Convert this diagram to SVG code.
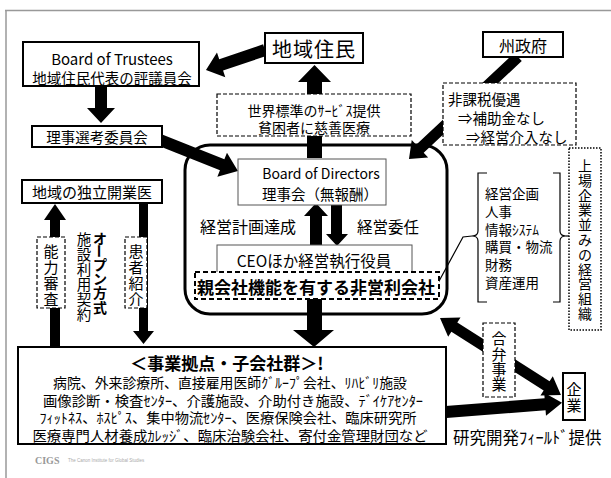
<svg xmlns="http://www.w3.org/2000/svg" width="611" height="478" viewBox="0 0 611 478">
<style>
text{font-family:"Noto Sans CJK JP","Noto Sans",sans-serif;fill:#000;dominant-baseline:central}
.c{text-anchor:middle}
.b{font-weight:bold}
.box{fill:#fff;stroke:#000;stroke-width:2}
.thin{fill:#fff;stroke:#555;stroke-width:1}
.dash{fill:#fff;stroke:#000;stroke-width:1.2;stroke-dasharray:4 2}
.dash2{fill:#fff;stroke:#000;stroke-width:2;stroke-dasharray:5 3}
.dot{fill:#fff;stroke:#000;stroke-width:1.5;stroke-dasharray:1.5 1.5}
.arr{fill:#000;stroke:none}
</style>
<rect width="611" height="478" fill="#fff"/>
<path d="M5,10.5 H611 M6,10 V478" fill="none" stroke="#999" stroke-width="1.5"/>

<g id="connectors">
  <polygon class="arr" points="95,87 107,87 107,108 115,108 101,123 87,108 95,108"/>
  <polygon class="arr" transform="translate(265,50) rotate(161.3)" points="0,-6 46.3,-6 46.3,-13 62.3,0 46.3,13 46.3,6 0,6"/>
  <polygon class="arr" transform="translate(160,140) rotate(21.7)" points="0,-6 66.9,-6 66.9,-13 83.9,0 66.9,13 66.9,6 0,6"/>
  <polygon class="arr" points="307,158 307,82 298,82 314.5,65 331,82 322,82 322,158"/>
  <polygon class="arr" transform="translate(518,57) rotate(136.9)" points="0,-5.5 134.3,-5.5 134.3,-12 149.3,0 134.3,12 134.3,5.5 0,5.5"/>
  <polygon class="arr" points="310,246 310,216 304,216 316,203 328,216 322,216 322,246"/>
  <polygon class="arr" points="331,205 342,205 342,234 348,234 337,246 326,234 331,234"/>
  <polygon class="arr" points="307,299 322,299 322,330 334,330 314,347 293,330 307,330"/>
  <polygon class="arr" points="50,347 50,220 44,220 55,204 66,220 60,220 60,347"/>
  <polygon class="arr" points="139,203 148,203 148,331 154,331 143.5,344 133,331 139,331"/>
  <polygon class="arr" transform="translate(440,318) rotate(32.5)" points="0,0 17,-11.5 17,-5.5 126.4,-5.5 126.4,-11.5 143.4,0 126.4,11.5 126.4,5.5 17,5.5 17,11.5"/>
  <polygon class="arr" transform="translate(446,412) rotate(-4.5)" points="0,-6 99.4,-6 99.4,-11.5 116.4,0 99.4,11.5 99.4,6 0,6"/>
  <path d="M472,236 L463,237 L438,283" fill="none" stroke="#000" stroke-width="1.2"/>
  <path d="M566,236 H569" fill="none" stroke="#000" stroke-width="1.2"/>
</g>

<g id="npo">
  <rect x="185" y="145" width="262" height="169" rx="25" fill="none" stroke="#000" stroke-width="3"/>
</g>

<g id="trustees">
  <rect class="box" x="23" y="42" width="176" height="44"/>
  <text class="c" x="112" y="58" font-size="15">Board of Trustees</text>
  <text class="c" x="112" y="77" font-size="14.5">地域住民代表の評議員会</text>
</g>
<g id="residents">
  <rect class="box" x="265" y="33" width="98" height="30"/>
  <text class="c" x="314" y="48" font-size="20" letter-spacing="1">地域住民</text>
</g>
<g id="state">
  <rect class="box" x="483" y="32" width="80" height="25" stroke-width="1.5"/>
  <text class="c" x="523" y="45" font-size="16">州政府</text>
</g>
<g id="committee">
  <rect class="box" x="32" y="126" width="130" height="21"/>
  <text class="c" x="97" y="136.5" font-size="14.5">理事選考委員会</text>
</g>
<g id="service">
  <rect class="dash" x="217" y="94" width="194" height="42"/>
  <text class="c" x="314" y="110" font-size="14">世界標準のｻｰﾋﾞｽ提供</text>
  <text class="c" x="314" y="127" font-size="14">貧困者に慈善医療</text>
</g>
<g id="tax">
  <rect class="dash" x="443" y="83" width="133" height="62"/>
  <text x="448" y="98" font-size="14.5">非課税優遇</text>
  <text x="458" y="117" font-size="14.5">⇒補助金なし</text>
  <text x="466" y="136" font-size="14.5">⇒経営介入なし</text>
</g>
<g id="bod">
  <rect class="thin" x="238" y="159" width="148" height="46"/>
  <text class="c" x="321" y="173" font-size="14">Board of Directors</text>
  <text class="c" x="320" y="193" font-size="14.5">理事会（無報酬）</text>
</g>
<g id="labels-mid">
  <text x="200" y="226" font-size="16">経営計画達成</text>
  <text x="357" y="226" font-size="15.5">経営委任</text>
</g>
<g id="ceo">
  <rect class="thin" x="217" y="245" width="195" height="30"/>
  <text class="c" x="314" y="260" font-size="15.5">CEOほか経営執行役員</text>
</g>
<g id="parent">
  <rect class="dash2" x="195" y="272" width="244" height="27"/>
  <text class="c b" x="316" y="286" font-size="17">親会社機能を有する非営利会社</text>
</g>
<g id="functions">
  <path d="M487,173 H478 V231 Q478,236 472,236 Q478,236 478,241 V302 H487" fill="none" stroke="#000" stroke-width="1.2"/>
  <path d="M553,173 H560 V231 Q560,236 566,236 Q560,236 560,241 V302 H553" fill="none" stroke="#000" stroke-width="1.2"/>
  <text x="485" y="193" font-size="13.5">経営企画</text>
  <text x="485" y="211" font-size="13.5">人事</text>
  <text x="485" y="229" font-size="13.5">情報ｼｽﾃﾑ</text>
  <text x="485" y="246" font-size="13.5">購買・物流</text>
  <text x="485" y="264" font-size="13.5">財務</text>
  <text x="485" y="282" font-size="13.5">資産運用</text>
</g>
<g id="listed">
  <rect class="dot" x="569" y="148" width="32" height="182"/>
  <text class="c" font-size="14" x="585 585 585 585 585 585 585 585 585 585 585" y="165 179.8 194.6 209.4 224.2 239 253.8 268.6 283.4 298.2 313">上場企業並みの経営組織</text>
</g>
<g id="doctors">
  <rect class="box" x="22" y="180" width="140" height="23"/>
  <text class="c" x="92" y="191.5" font-size="15">地域の独立開業医</text>
</g>
<g id="ability">
  <rect class="dash" x="37" y="237" width="28" height="71"/>
  <text class="c" x="51 51 51 51" y="250 266 282 298" font-size="15">能力審査</text>
</g>
<g id="open">
  <text class="c b" x="100" y="238" font-size="14">オ</text>
  <text class="c b" x="100" y="251" font-size="14" transform="rotate(90 100 251)">ー</text>
  <text class="c b" x="100 100 100 100" y="264 278 292 307" font-size="14">プン方式</text>
  <text class="c" x="84 84 84 84 84 84" y="238 253 268 283 298 313" font-size="14.5">施設利用契約</text>
</g>
<g id="referral">
  <rect class="dash" x="125" y="237" width="22" height="71"/>
  <text class="c" x="136 136 136 136" y="250 266 282 298" font-size="15">患者紹介</text>
</g>
<g id="sites">
  <rect class="box" x="18" y="347" width="428" height="97"/>
  <text class="c b" x="227" y="362" font-size="17">＜事業拠点・子会社群＞!</text>
  <text class="c" x="230" y="382" font-size="14" textLength="354" lengthAdjust="spacingAndGlyphs">病院、外来診療所、直接雇用医師ｸﾞﾙｰﾌﾟ会社、ﾘﾊﾋﾞﾘ施設</text>
  <text class="c" x="233" y="400" font-size="14" textLength="380" lengthAdjust="spacingAndGlyphs">画像診断・検査ｾﾝﾀｰ、介護施設、介助付き施設、ﾃﾞｲｹｱｾﾝﾀｰ</text>
  <text class="c" x="228" y="417" font-size="14" textLength="377" lengthAdjust="spacingAndGlyphs">ﾌｨｯﾄﾈｽ、ﾎｽﾋﾟｽ、集中物流ｾﾝﾀｰ、医療保険会社、臨床研究所</text>
  <text class="c" x="230" y="435" font-size="14" textLength="395" lengthAdjust="spacingAndGlyphs">医療専門人材養成ｶﾚｯｼﾞ、臨床治験会社、寄付金管理財団など</text>
</g>
<g id="jv">
  <rect class="dash" x="483" y="323" width="32" height="74"/>
  <text class="c" x="499 499 499 499" y="337 353 368 383" font-size="15">合弁事業</text>
</g>
<g id="company">
  <rect class="box" x="563" y="373" width="22" height="47" stroke-width="1.5"/>
  <text class="c" x="574 574" y="388 404" font-size="15">企業</text>
</g>
<text x="453" y="437" font-size="16.5">研究開発ﾌｨｰﾙﾄﾞ提供</text>

<g id="logo">
  <text x="35" y="460" font-size="10" font-weight="bold" style="font-family:'Liberation Serif',serif;fill:#999">CIGS</text>
  <text x="68" y="460" font-size="4.5" style="font-family:'Liberation Sans',sans-serif;fill:#aaa">The Canon Institute for Global Studies</text>
</g>
</svg>
